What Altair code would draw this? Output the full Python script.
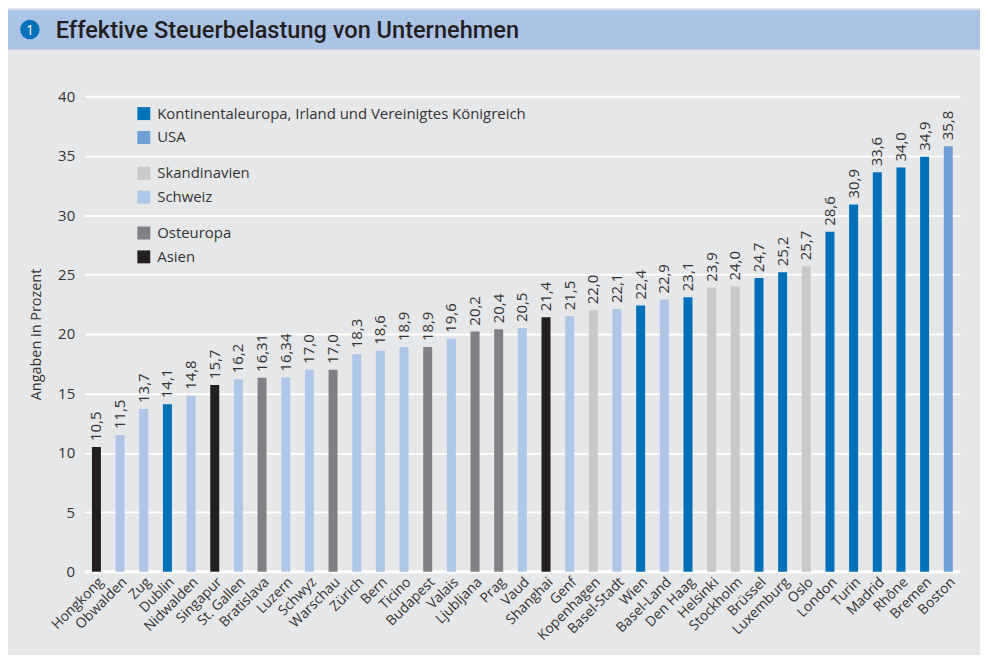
import altair as alt
import pandas as pd

TITLE = "Effektive Steuerbelastung von Unternehmen"
Y_TITLE = "Angaben in Prozent"

cities = ["Hongkong", "Obwalden", "Zug", "Dublin", "Nidwalden", "Singapur", "St. Gallen",
          "Bratislava", "Luzern", "Schwyz", "Warschau", "Zürich", "Bern", "Ticino",
          "Budapest", "Valais", "Ljubljana", "Prag", "Vaud", "Shanghai", "Genf",
          "Kopenhagen", "Basel-Stadt", "Wien", "Basel-Land", "Den Haag", "Helsinki",
          "Stockholm", "Brüssel", "Luxemburg", "Oslo", "London", "Turin", "Madrid",
          "Rhône", "Bremen", "Boston"]
values = [10.5, 11.5, 13.7, 14.1, 14.8, 15.7, 16.2, 16.31, 16.34, 17.0, 17.0, 18.3, 18.6,
          18.9, 18.9, 19.6, 20.2, 20.4, 20.5, 21.4, 21.5, 22.0, 22.1, 22.4, 22.9, 23.1,
          23.9, 24.0, 24.7, 25.2, 25.7, 28.6, 30.9, 33.6, 34.0, 34.9, 35.8]
value_labels = ["10,5", "11,5", "13,7", "14,1", "14,8", "15,7", "16,2", "16,31", "16,34",
                "17,0", "17,0", "18,3", "18,6", "18,9", "18,9", "19,6", "20,2", "20,4",
                "20,5", "21,4", "21,5", "22,0", "22,1", "22,4", "22,9", "23,1", "23,9",
                "24,0", "24,7", "25,2", "25,7", "28,6", "30,9", "33,6", "34,0", "34,9", "35,8"]

KE = "Kontinentaleuropa, Irland und Vereinigtes Königreich"
US = "USA"
SK = "Skandinavien"
CH = "Schweiz"
OE = "Osteuropa"
AS = "Asien"
groups = [AS, CH, CH, KE, CH, AS, CH, OE, CH, CH, OE, CH, CH, CH, OE, CH, OE, OE, CH, AS,
          CH, SK, CH, KE, CH, KE, SK, SK, KE, KE, SK, KE, KE, KE, KE, KE, US]

legend_groups = [[KE, US], [SK, CH], [OE, AS]]
legend_colors = [["#0070b8", "#6e9fd6"], ["#c8c9cb", "#aec6e8"], ["#808184", "#231f20"]]
legend_tops = [10, 70, 130]

BG = "#e6e7e9"
BAND = "#abc4e6"
TXT = "#333333"
FONT = "Open Sans"
TFONT = "Roboto"

df = pd.DataFrame({"city": cities, "value": values, "label": value_labels, "group": groups})

x_enc = alt.X("city:N", sort=None,
              scale=alt.Scale(domain=cities, paddingInner=0.62, paddingOuter=0.31),
              axis=alt.Axis(title=None, labelAngle=-45, labelFontSize=14, labelColor=TXT,
                            labelFont=FONT, ticks=False, domain=False, labelPadding=3,
                            grid=False))
y_enc = alt.Y("value:Q", scale=alt.Scale(domain=[0, 40], nice=False),
              axis=alt.Axis(title=Y_TITLE, values=list(range(0, 41, 5)), labelFontSize=15,
                            labelColor=TXT, labelFont=FONT, ticks=False, domain=False,
                            labelPadding=10, titleFontSize=14.5, titleColor=TXT,
                            titleFont=FONT, titleFontWeight="normal", titlePadding=14,
                            gridColor="white", gridWidth=2, gridOpacity=1))

base = alt.Chart(df)

bar_layers = []
for gs, cols, top in zip(legend_groups, legend_colors, legend_tops):
    bar_layers.append(
        base.transform_filter(alt.FieldOneOfPredicate(field="group", oneOf=gs))
        .mark_bar()
        .encode(
            x=x_enc, y=y_enc,
            color=alt.Color("group:N", scale=alt.Scale(domain=gs, range=cols),
                            legend=alt.Legend(orient="none", legendX=52, legendY=top,
                                              title=None, symbolType="square",
                                              symbolSize=169, symbolStrokeWidth=0,
                                              symbolOpacity=1,
                                              labelFontSize=15, labelColor=TXT,
                                              labelFont=FONT, labelOffset=6,
                                              labelLimit=600, rowPadding=8)),
        )
    )

zero_rule = alt.Chart(pd.DataFrame({"v": [0]})).mark_rule(color="white", strokeWidth=3).encode(
    y=alt.Y("v:Q", scale=alt.Scale(domain=[0, 40], nice=False))
)

labels = base.mark_text(angle=270, align="left", baseline="middle", dx=6, fontSize=15,
                        color=TXT, font=FONT).encode(x=x_enc, y=y_enc, text="label:N")

one = pd.DataFrame({"t": [TITLE]})
band = alt.Chart(one).mark_rect(color=BAND).encode(
    x=alt.value(-77), x2=alt.value(900), y=alt.value(-87), y2=alt.value(-47))
badge = alt.Chart(one).mark_circle(color="#0070b8", opacity=1, size=380).encode(
    x=alt.value(-55), y=alt.value(-67))
badge_num = alt.Chart(one).mark_text(color="white", fontSize=14, font=FONT,
                                     baseline="middle", align="center").encode(
    x=alt.value(-55), y=alt.value(-66), text=alt.value("1"))
title = alt.Chart(one).mark_text(color="#231f20", fontSize=23.7, fontWeight=500, font=TFONT,
                                 baseline="middle", align="left").encode(
    x=alt.value(-29), y=alt.value(-66), text="t:N")

chart = alt.layer(zero_rule, *bar_layers, labels, band, badge, badge_num, title).resolve_scale(
    color="independent"
).properties(
    width=880, height=478,
    autosize=alt.AutoSizeParams(type="none"),
    padding={"left": 77, "top": 87, "right": 20, "bottom": 82},
    background=BG,
).configure_view(stroke=None)

chart.save("out.html", embed_options={"renderer": "svg", "actions": False})
